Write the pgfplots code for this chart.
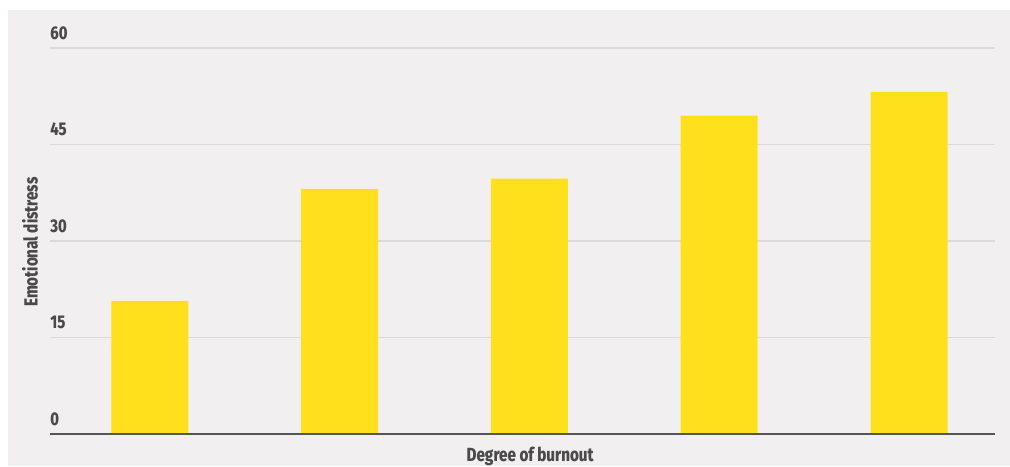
\documentclass[border=0pt]{standalone}
\usepackage{fontspec}
\setmainfont{Fira Sans}[FakeStretch=0.8, BoldFont={Fira Sans ExtraBold}]
\usepackage{pgfplots}
\pgfplotsset{compat=1.18}
\definecolor{bgc}{HTML}{F1EFF0}
\definecolor{barc}{HTML}{FFE01B}
\definecolor{gridc}{HTML}{DADADA}
\definecolor{axc}{HTML}{555555}
\definecolor{txt}{HTML}{4A4A4A}
\begin{document}
\begin{tikzpicture}
\fill[bgc] (4pt,0) rectangle (505pt,228pt);
\useasboundingbox (0,0) rectangle (505pt,233pt);
\begin{axis}[
  at={(25pt,16pt)}, anchor=south west,
  scale only axis, width=472.5pt, height=193pt,
  xmin=-0.526, xmax=4.453, ymin=0, ymax=60,
  ytick={0,15,30,45,60},
  xtick=\empty,
  axis line style={draw=none},
  ymajorgrids, grid style={gridc, line width=0.8pt},
  major tick length=0pt,
  /pgf/number format/assume math mode=true,
  yticklabel style={anchor=south west, inner sep=0pt, xshift=0pt, yshift=4pt, font=\bfseries\fontsize{9.2}{10}\selectfont, text=txt},
  ylabel={Emotional distress},
  ylabel style={font=\bfseries\fontsize{9.5}{10}\selectfont, text=txt, at={(axis description cs:0,0.5)}, anchor=south, xshift=-0.5pt, yshift=2.5pt},
  xlabel={Degree of burnout},
  xlabel style={font=\bfseries\fontsize{9.5}{10}\selectfont, text=txt, at={(axis description cs:0.508,0)}, anchor=north, yshift=-3pt},
  ybar, bar width=38.5pt,
  clip=false,
]
\addplot[fill=barc, draw=none] coordinates {(0,20.7) (1,38.1) (2,39.7) (3,49.5) (4,53.2)};
\draw[axc, line width=1pt] (rel axis cs:0,0) -- (rel axis cs:1,0);
\end{axis}
\end{tikzpicture}
\end{document}
